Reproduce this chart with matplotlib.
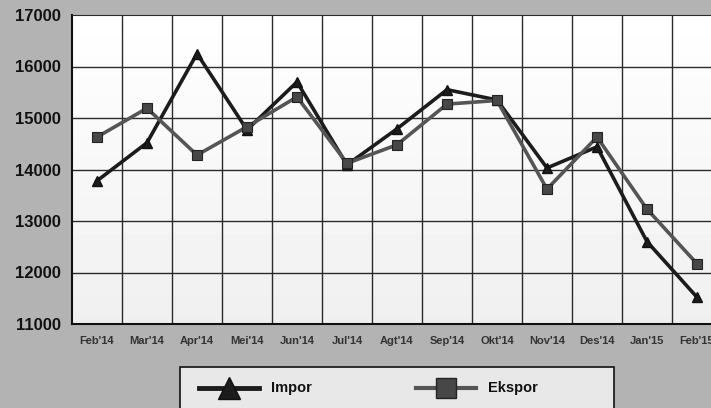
import numpy as np
import matplotlib.pyplot as plt
from matplotlib.lines import Line2D
from matplotlib.patches import Rectangle

plt.rcParams['font.family'] = ['Liberation Sans', 'DejaVu Sans']
plt.rcParams['font.weight'] = 'bold'

# data
bulan = ["Feb'14", "Mar'14", "Apr'14", "Mei'14", "Jun'14", "Jul'14", "Agt'14",
         "Sep'14", "Okt'14", "Nov'14", "Des'14", "Jan'15", "Feb'15"]
impor = [13780, 14520, 16250, 14770, 15700, 14090, 14790, 15550, 15350, 14030, 14440, 12600, 11520]
ekspor = [14630, 15190, 14280, 14830, 15410, 14120, 14480, 15270, 15340, 13620, 14630, 13230, 12170]
yticks = [11000, 12000, 13000, 14000, 15000, 16000, 17000]

W, H = 711, 408
fig = plt.figure(figsize=(W/100, H/100), dpi=100)
fig.patch.set_facecolor('#b3b3b3')

# plot area runs past the right edge, like the original
ax = fig.add_axes([72/W, 1-324/H, 650/W, 309/H])
x = np.arange(len(bulan))
ax.set_xlim(-0.5, len(bulan)-0.5)
ax.set_ylim(11000, 17000)

# soft gradient background
grad = np.linspace(1.0, 0.94, 100).reshape(-1, 1)
ax.imshow(grad, cmap='gray', vmin=0, vmax=1, aspect='auto',
          extent=[-0.5, len(bulan)-0.5, 11000, 17000], zorder=0)

for xv in np.arange(0.5, len(bulan)-0.5, 1):
    ax.axvline(xv, color='#2a2a2a', lw=1, zorder=1)
for yv in yticks[1:-1]:
    ax.axhline(yv, color='#2a2a2a', lw=1, zorder=1)

sty_imp = dict(color='#1c1c1c', lw=2.6, marker='^', mfc='#1c1c1c', mec='#111111')
sty_eks = dict(color='#555555', lw=2.6, marker='s', mfc='#474747', mec='#222222', mew=0.8)
ax.plot(x, impor, ms=7, zorder=3, **sty_imp)
ax.plot(x, ekspor, ms=6.5, zorder=4, **sty_eks)

ax.set_xticks(x)
ax.set_xticklabels(bulan, fontsize=8, color='#333333')
ax.set_yticks(yticks)
ax.set_yticklabels([str(v) for v in yticks], fontsize=12, color='#111111')
ax.tick_params(length=0, pad=8)
ax.tick_params(axis='x', pad=9)
for s in ['top', 'right']:
    ax.spines[s].set_color('#2a2a2a')
for s in ['left', 'bottom']:
    ax.spines[s].set_color('#111111')
    ax.spines[s].set_linewidth(1.5)

# legend box drawn by hand (it is cut by the bottom edge)
fig.patches.append(Rectangle((180/W, -0.05), 434/W, 0.05 + (H-367)/H,
                             transform=fig.transFigure, facecolor='#e8e8e8',
                             edgecolor='#111111', lw=1.2))
ly = 1 - 388/H
fig.add_artist(Line2D([199/W, 259/W], [ly, ly], transform=fig.transFigure,
                      color='#1c1c1c', lw=3.5))
fig.add_artist(Line2D([229/W], [ly], transform=fig.transFigure, marker='^',
                      ms=16, mfc='#1c1c1c', mec='#111111', lw=0))
fig.text(271/W, ly, 'Impor', fontsize=10.5, va='center', ha='left', color='#111111')
fig.add_artist(Line2D([416/W, 476/W], [ly, ly], transform=fig.transFigure,
                      color='#555555', lw=3))
fig.add_artist(Line2D([446/W], [ly], transform=fig.transFigure, marker='s',
                      ms=14, mfc='#474747', mec='#222222', mew=1, lw=0))
fig.text(488/W, ly, 'Ekspor', fontsize=10.5, va='center', ha='left', color='#111111')

fig.savefig('out.png', dpi=100, facecolor=fig.get_facecolor())
